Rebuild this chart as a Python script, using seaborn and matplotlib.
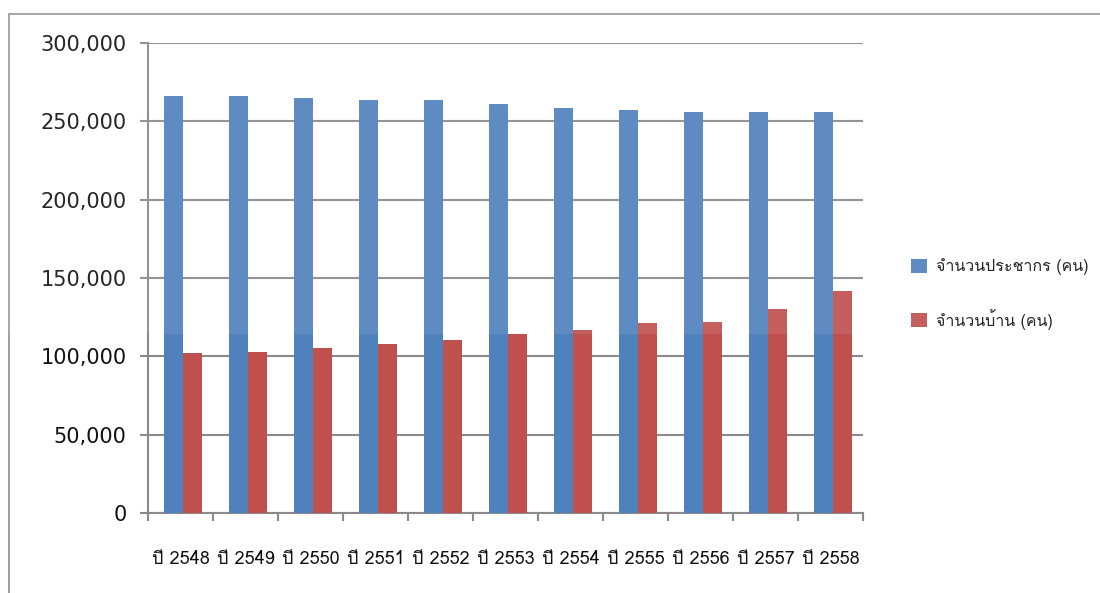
import matplotlib
matplotlib.use("Agg")
import matplotlib.pyplot as plt
from matplotlib import font_manager, ft2font
from matplotlib.patches import Rectangle, Patch
from matplotlib.ticker import FuncFormatter, FixedLocator
import seaborn as sns
import pandas as pd
import numpy as np

years = ["ปี 2548", "ปี 2549", "ปี 2550", "ปี 2551", "ปี 2552", "ปี 2553",
         "ปี 2554", "ปี 2555", "ปี 2556", "ปี 2557", "ปี 2558"]
population = [266000, 266000, 265000, 263500, 263500, 261000,
              258500, 257000, 256000, 256000, 256000]
houses = [102000, 103000, 105500, 108000, 110500, 114500,
          117000, 121000, 122000, 130000, 141500]
series_names = ["จำนวนประชากร (คน)", "จำนวนบ้าน (คน)"]
colors = ["#4F81BD", "#C0504D"]


def find_thai_family():
    for f in font_manager.fontManager.ttflist:
        try:
            cmap = ft2font.FT2Font(f.fname).get_charmap()
        except Exception:
            continue
        if 0x0E08 in cmap and 0x0E1B in cmap:
            return f.name
    return None


sns.set_theme(style="white")
thai = find_thai_family()
family = ["DejaVu Sans"] + ([thai] if thai else [])
thai_first = ([thai] if thai else []) + ["DejaVu Sans"]
plt.rcParams["font.family"] = family

df = pd.DataFrame({
    "year": years * 2,
    "value": population + houses,
    "series": [series_names[0]] * len(years) + [series_names[1]] * len(years),
})

W, H = 1100, 593
fig = plt.figure(figsize=(W / 100, H / 100), dpi=100)
ax = fig.add_axes([148 / W, (H - 513) / H, (863 - 148) / W, (513 - 43) / H])

sns.barplot(data=df, x="year", y="value", hue="series", order=years,
            hue_order=series_names, palette=colors, width=0.585,
            saturation=1, linewidth=0, legend=False, ax=ax, zorder=3)

grid_c = "#8A8A8A"
ax.set_ylim(0, 300000)
ax.set_xlim(-0.54, len(years) - 0.54)
ax.set_yticks(np.arange(0, 300001, 50000))
ax.yaxis.set_major_formatter(FuncFormatter(lambda v, p: f"{int(v):,}"))
ax.grid(axis="y", color=grid_c, linewidth=1.5, zorder=0)
ax.set_axisbelow(True)
for s in ["top", "right"]:
    ax.spines[s].set_visible(False)
for s in ["left", "bottom"]:
    ax.spines[s].set_color(grid_c)
    ax.spines[s].set_linewidth(1.5)
ax.set_xlabel("")
ax.set_ylabel("")

ax.tick_params(axis="y", which="major", left=True, length=5.5, width=1.5,
               color=grid_c, pad=10, labelsize=15, labelcolor="#111111")
# year labels sit at the middle of each category slot
ax.set_xticks(np.arange(len(years)) - 0.04)
ax.set_xticklabels(years, family=thai_first, fontsize=13, color="#111111")
ax.tick_params(axis="x", which="major", bottom=False, length=0, pad=27)
ax.xaxis.set_minor_locator(FixedLocator(np.arange(-0.54, len(years), 1.0)))
ax.tick_params(axis="x", which="minor", bottom=True, length=6, width=1.5,
               color=grid_c)

handles = [Patch(facecolor=c, edgecolor="none") for c in colors]
fig.legend(handles, series_names, loc="center left",
           bbox_to_anchor=(897 / W, (H - 294) / H), frameon=False,
           prop={"family": thai_first, "size": 11.5}, handlelength=1.0,
           handleheight=1.0, handletextpad=0.55, labelspacing=2.1,
           labelcolor="#111111")

# chart frame
fig.patches.append(Rectangle((9 / W, -0.1), 1.2, (H - 14) / H + 0.1,
                             transform=fig.transFigure, fill=False,
                             edgecolor="#8C8C8C", linewidth=1.2, zorder=0))
# light haze over the upper region
haze = Rectangle((0, (H - 334) / H), 1, 334 / H, transform=fig.transFigure,
                 facecolor="white", edgecolor="none", alpha=0.09, zorder=10)
fig.add_artist(haze)

fig.savefig("out.png", dpi=100)
